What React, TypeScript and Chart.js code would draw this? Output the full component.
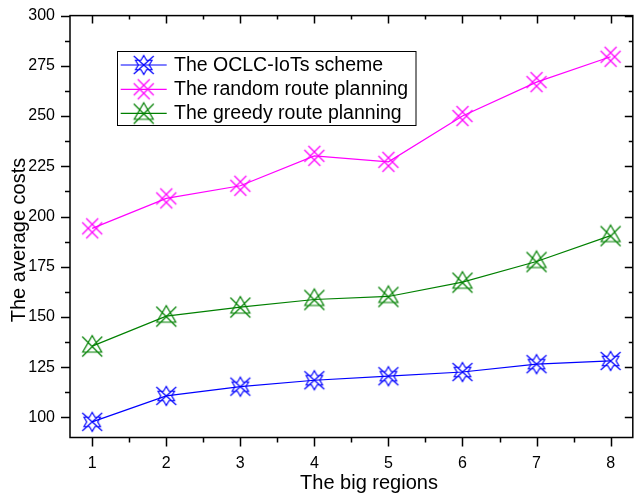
import React, { useEffect, useRef } from "react";
import { Chart, registerables } from "chart.js";

Chart.register(...registerables);

// ---- data ----
const regions = [1, 2, 3, 4, 5, 6, 7, 8];
const oclcCosts = [97.8, 110.7, 115.3, 118.5, 120.5, 122.6, 126.5, 128.1];
const randomCosts = [194.1, 209.0, 215.3, 230.2, 227.2, 250.0, 266.9, 279.5];
const greedyCosts = [135.5, 150.4, 154.9, 158.7, 160.2, 167.3, 177.6, 190.5];
const seriesNames = [
  "The OCLC-IoTs scheme",
  "The random route planning",
  "The greedy route planning",
];
const xTickValues = [1, 2, 3, 4, 5, 6, 7, 8];
const yTickValues = [100, 125, 150, 175, 200, 225, 250, 275, 300];
const xTitle = "The big regions";
const yTitle = "The average costs";

const FONT = "'Liberation Sans', Arial, sans-serif";

function makeMarker(kind: string, color: string): HTMLCanvasElement {
  const c = document.createElement("canvas");
  c.width = 26;
  c.height = 26;
  const g = c.getContext("2d")!;
  g.translate(13, 13);
  g.strokeStyle = color;
  g.lineWidth = 1.2;
  g.beginPath();
  if (kind === "star") {
    const R = 9.5;
    const r = R / Math.sqrt(3);
    for (let k = 0; k < 12; k++) {
      const a = ((-90 + k * 30) * Math.PI) / 180;
      const rad = k % 2 === 0 ? R : r;
      const px = rad * Math.cos(a);
      const py = rad * Math.sin(a);
      if (k === 0) g.moveTo(px, py);
      else g.lineTo(px, py);
    }
    g.closePath();
    g.moveTo(-10, -9);
    g.lineTo(10, 9);
    g.moveTo(10, -9);
    g.lineTo(-10, 9);
  } else if (kind === "xx") {
    const h = 10;
    const cc = 4;
    g.moveTo(-h, -h + cc);
    g.lineTo(h - cc, h);
    g.moveTo(-h + cc, -h);
    g.lineTo(h, h - cc);
    g.moveTo(-h + cc, h);
    g.lineTo(h, -h + cc);
    g.moveTo(-h, h - cc);
    g.lineTo(h - cc, -h);
  } else {
    g.moveTo(0, -10.5);
    g.lineTo(9.5, 6);
    g.lineTo(-9.5, 6);
    g.closePath();
    g.moveTo(-10, -9.5);
    g.lineTo(10, 10.5);
    g.moveTo(10, -9.5);
    g.lineTo(-10, 10.5);
  }
  g.stroke();
  return c;
}

const framePlugin = {
  id: "originFrame",
  afterDraw(chart: any) {
    const { ctx, chartArea: a, scales } = chart;
    const xs = scales.x;
    const ys = scales.y;
    ctx.save();
    // frame
    ctx.strokeStyle = "#000";
    ctx.lineWidth = 1.5;
    ctx.strokeRect(a.left, a.top, a.right - a.left, a.bottom - a.top);
    // ticks
    ctx.beginPath();
    for (let v = 1; v <= 8.001; v += 0.5) {
      const p = Math.round(xs.getPixelForValue(v)) + 0.5;
      const major = Math.abs(v - Math.round(v)) < 1e-6;
      ctx.moveTo(p, a.bottom);
      ctx.lineTo(p, a.bottom + (major ? 9 : 5));
      ctx.moveTo(p, a.top);
      ctx.lineTo(p, a.top + (major ? 8 : 4));
    }
    for (let v = 100; v <= 300.001; v += 12.5) {
      const p = Math.round(ys.getPixelForValue(v)) + 0.5;
      const major = Math.abs(v / 25 - Math.round(v / 25)) < 1e-6;
      ctx.moveTo(a.left, p);
      ctx.lineTo(a.left - (major ? 9 : 5), p);
      ctx.moveTo(a.right, p);
      ctx.lineTo(a.right - (major ? 8 : 4), p);
    }
    ctx.stroke();

    // axis titles
    ctx.fillStyle = "#000";
    ctx.font = `20px ${FONT}`;
    ctx.textAlign = "center";
    ctx.textBaseline = "alphabetic";
    ctx.fillText(xTitle, 369, 489);
    ctx.save();
    ctx.translate(24.5, 240);
    ctx.rotate(-Math.PI / 2);
    ctx.fillText(yTitle, 0, 0);
    ctx.restore();

    // legend
    ctx.lineWidth = 1;
    ctx.strokeStyle = "#000";
    ctx.strokeRect(117.5, 51.5, 298.5, 74);
    const rows = [65, 89.3, 113.3];
    ctx.font = `19.5px ${FONT}`;
    ctx.textAlign = "left";
    chart.data.datasets.forEach((ds: any, i: number) => {
      const y = rows[i];
      ctx.strokeStyle = ds.borderColor;
      ctx.lineWidth = 1.2;
      ctx.beginPath();
      ctx.moveTo(120.7, y);
      ctx.lineTo(166.7, y);
      ctx.stroke();
      const m = ds.pointStyle as HTMLCanvasElement;
      ctx.drawImage(m, 143.7 - m.width / 2, y - m.height / 2);
      ctx.fillStyle = "#000";
      ctx.fillText(ds.label, 174, y + 6);
    });
    ctx.restore();
  },
};

export default function App() {
  const ref = useRef<HTMLCanvasElement | null>(null);
  useEffect(() => {
    document.body.style.margin = "0";
    const canvas = ref.current!;
    const toPts = (vals: number[]) => regions.map((r, i) => ({ x: r, y: vals[i] }));
    const mk = (label: string, vals: number[], color: string, kind: string) => ({
      label,
      data: toPts(vals),
      borderColor: color,
      backgroundColor: color,
      borderWidth: 1.2,
      tension: 0,
      pointStyle: makeMarker(kind, color),
      pointRadius: 10,
      pointHoverRadius: 10,
      clip: false as any,
    });
    const chart = new Chart(canvas, {
      type: "line",
      data: {
        datasets: [
          mk(seriesNames[0], oclcCosts, "#0000FF", "star"),
          mk(seriesNames[1], randomCosts, "#FF00FF", "xx"),
          mk(seriesNames[2], greedyCosts, "#008000", "tri"),
        ],
      },
      options: {
        responsive: false,
        animation: false,
        devicePixelRatio: 1,
        layout: { padding: { left: 0, right: 0.7, top: 14.3, bottom: 0 } },
        plugins: {
          legend: { display: false },
          tooltip: { enabled: false },
        },
        scales: {
          x: {
            type: "linear",
            min: 0.7,
            max: 8.3,
            afterBuildTicks: (s: any) => {
              s.ticks = xTickValues.map((v) => ({ value: v }));
            },
            afterFit: (s: any) => {
              s.height = 55.5;
            },
            grid: {
              display: true,
              drawOnChartArea: false,
              drawTicks: true,
              tickLength: 9,
              color: "rgba(0,0,0,0)",
            },
            border: { display: false },
            ticks: {
              color: "#000",
              font: { family: FONT, size: 16 },
              padding: 7,
              maxRotation: 0,
              autoSkip: false,
              callback: (v: any) => String(v),
            },
          },
          y: {
            type: "linear",
            min: 90,
            max: 300,
            afterBuildTicks: (s: any) => {
              s.ticks = yTickValues.map((v) => ({ value: v }));
            },
            afterFit: (s: any) => {
              s.width = 70;
            },
            grid: {
              display: true,
              drawOnChartArea: false,
              drawTicks: true,
              tickLength: 9,
              color: "rgba(0,0,0,0)",
            },
            border: { display: false },
            ticks: {
              color: "#000",
              font: { family: FONT, size: 16 },
              padding: 6,
              autoSkip: false,
              callback: (v: any) => String(v),
            },
          },
        },
      },
      plugins: [framePlugin],
    } as any);
    return () => chart.destroy();
  }, []);
  return (
    <div style={{ width: 644, height: 493, background: "#fff" }}>
      <canvas ref={ref} width={644} height={493} style={{ display: "block" }} />
    </div>
  );
}
